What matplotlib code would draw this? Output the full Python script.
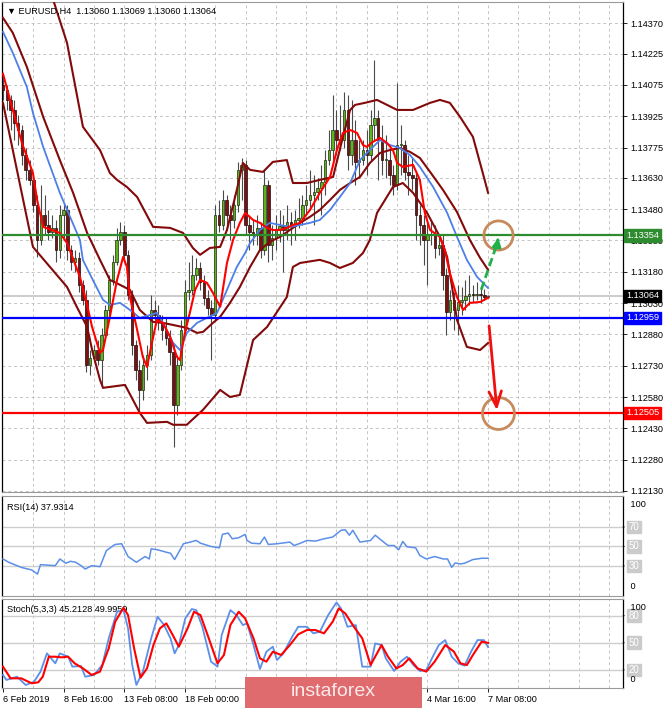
import matplotlib
matplotlib.use('Agg')
import matplotlib.pyplot as plt
import matplotlib.transforms as mtransforms
from matplotlib.patches import Rectangle
import numpy as np

plt.rcParams['font.family'] = ['Liberation Sans', 'DejaVu Sans']

# ------------------------------------------------------------------ data
symbol_title = "EURUSD,H4  1.13060 1.13069 1.13060 1.13064"
first_open = 1.14075
closes = [
    1.14051, 1.14003, 1.13955, 1.13893, 1.13859, 1.13739, 1.13668, 1.13620, 1.13500, 1.13332,
    1.13452, 1.13404, 1.13370, 1.13390, 1.13284, 1.13452, 1.13476, 1.13284, 1.13227, 1.13246,
    1.13117, 1.13045, 1.12733, 1.12767, 1.12805, 1.12757, 1.12877, 1.12997, 1.13141, 1.13227,
    1.13332, 1.13370, 1.13260, 1.13069, 1.12829, 1.12709, 1.12614, 1.12733, 1.12781, 1.12997,
    1.12973, 1.12939, 1.12901, 1.12863, 1.12796, 1.12542, 1.12733, 1.12901, 1.13083, 1.13093,
    1.13165, 1.13198, 1.13131, 1.13055, 1.13007, 1.12973, 1.13452, 1.13404, 1.13524, 1.13452,
    1.13428, 1.13500, 1.13668, 1.13691, 1.13404, 1.13370, 1.13356, 1.13390, 1.13284, 1.13596,
    1.13308, 1.13342, 1.13380, 1.13399, 1.13380, 1.13418, 1.13399, 1.13428, 1.13438, 1.13500,
    1.13524, 1.13548, 1.13562, 1.13582, 1.13610, 1.13715, 1.13763, 1.13859, 1.13811, 1.13811,
    1.13955, 1.13739, 1.13811, 1.13706, 1.13715, 1.13763, 1.13739, 1.13883, 1.13917, 1.13811,
    1.13715, 1.13715, 1.13644, 1.13596, 1.13787, 1.13787, 1.13658, 1.13644, 1.13629, 1.13452,
    1.13404, 1.13332, 1.13356, 1.13356, 1.13294, 1.13308, 1.13165, 1.12988, 1.13045, 1.12997,
    1.13036, 1.13045, 1.13064, 1.13074, 1.13069, 1.13074, 1.13069, 1.13060, 1.13064]
highs = [
    1.14123, 1.14075, 1.14027, 1.14003, 1.13931, 1.13883, 1.13773, 1.13715, 1.13644, 1.13548,
    1.13596, 1.13548, 1.13476, 1.13452, 1.13428, 1.13500, 1.13510, 1.13500, 1.13308, 1.13284,
    1.13275, 1.13141, 1.13093, 1.12805, 1.12829, 1.12853, 1.12911, 1.13021, 1.13165, 1.13260,
    1.13390, 1.13418, 1.13404, 1.13284, 1.13093, 1.12853, 1.12757, 1.12781, 1.12829, 1.13069,
    1.13045, 1.13021, 1.12973, 1.12959, 1.12901, 1.12829, 1.12781, 1.12949, 1.13141, 1.13227,
    1.13260, 1.13246, 1.13227, 1.13165, 1.13093, 1.13045, 1.13500, 1.13524, 1.13572, 1.13548,
    1.13500, 1.13548, 1.13706, 1.13725, 1.13715, 1.13452, 1.13428, 1.13452, 1.13418, 1.13668,
    1.13620, 1.13404, 1.13452, 1.13476, 1.13452, 1.13500, 1.13466, 1.13476, 1.13534, 1.13548,
    1.13596, 1.13668, 1.13644, 1.13629, 1.13691, 1.13763, 1.13859, 1.14027, 1.13955, 1.13979,
    1.14041, 1.14027, 1.14003, 1.13907, 1.13811, 1.13811, 1.13859, 1.13955, 1.14195, 1.13955,
    1.13883, 1.13835, 1.13763, 1.13691, 1.14084, 1.13883, 1.13811, 1.13739, 1.13725, 1.13658,
    1.13500, 1.13452, 1.13418, 1.13428, 1.13404, 1.13356, 1.13356, 1.13198, 1.13093, 1.13083,
    1.13117, 1.13107, 1.13141, 1.13165, 1.13117, 1.13131, 1.13107, 1.13098, 1.13069]
lows = [
    1.14003, 1.13955, 1.13859, 1.13811, 1.13787, 1.13691, 1.13620, 1.13596, 1.13466, 1.13251,
    1.13308, 1.13356, 1.13332, 1.13342, 1.13227, 1.13246, 1.13332, 1.13236, 1.13188, 1.13179,
    1.13083, 1.13021, 1.12699, 1.12685, 1.12771, 1.12733, 1.12623, 1.12853, 1.12973, 1.13117,
    1.13212, 1.13308, 1.13227, 1.13045, 1.12781, 1.12661, 1.12518, 1.12566, 1.12661, 1.12757,
    1.12925, 1.12901, 1.12853, 1.12829, 1.12733, 1.12341, 1.12494, 1.12709, 1.12877, 1.13045,
    1.13069, 1.13141, 1.13093, 1.13021, 1.12973, 1.12757, 1.12949, 1.13370, 1.13380, 1.13380,
    1.13332, 1.13390, 1.13466, 1.13524, 1.13356, 1.13284, 1.13308, 1.13308, 1.13246, 1.13260,
    1.13227, 1.13236, 1.13284, 1.13323, 1.13179, 1.13332, 1.13308, 1.13332, 1.13390, 1.13404,
    1.13452, 1.13476, 1.13404, 1.13524, 1.13452, 1.13548, 1.13691, 1.13715, 1.13739, 1.13763,
    1.13773, 1.13668, 1.13691, 1.13596, 1.13629, 1.13691, 1.13644, 1.13715, 1.13811, 1.13620,
    1.13644, 1.13629, 1.13596, 1.13548, 1.13572, 1.13644, 1.13620, 1.13548, 1.13572, 1.13332,
    1.13308, 1.13212, 1.13117, 1.13308, 1.13246, 1.13260, 1.13093, 1.12877, 1.12949, 1.12901,
    1.12877, 1.12973, 1.12997, 1.13021, 1.13031, 1.13045, 1.13031, 1.13045, 1.13060]

# fast MA (red)
red_ma_x = [0, 2.6, 5.0, 7.9, 9.0, 10.6, 15.0, 16.9, 20.3, 21.9, 23.5, 25.6, 26.4, 28.2, 30.1, 31.7,
            32.7, 33.5, 35.4, 36.9, 38.0, 39.3, 40.6, 42.2, 44.1, 45.9, 46.7, 48.0, 49.3, 50.7, 52.0,
            53.8, 55.4, 57.3, 59.1, 60.7, 62.5, 63.9, 66.0, 67.8, 69.7, 71.2, 73.1, 74.9, 76.5, 78.4,
            81.0, 83.6, 86.3, 88.1, 89.7, 91.6, 93.4, 95.0, 96.0, 97.6, 99.5, 101.3, 102.9, 104.0,
            105.5, 108.2, 110.0, 111.3, 112.7, 115.3, 116.6, 117.9, 119.8, 121.4, 123.2, 125.9, 128.0]
red_ma_y = [1.14128, 1.13955, 1.13797, 1.13653, 1.13524, 1.13395, 1.13366, 1.13318, 1.13155, 1.13045,
            1.12916, 1.12791, 1.12805, 1.12964, 1.13141, 1.13251, 1.13203, 1.13059, 1.12901, 1.12772,
            1.12724, 1.12839, 1.12949, 1.12935, 1.12868, 1.12772, 1.12757, 1.12887, 1.12983, 1.13093,
            1.13141, 1.13127, 1.13079, 1.13012, 1.13222, 1.13332, 1.13414, 1.13462, 1.13428, 1.13414,
            1.13390, 1.13380, 1.13380, 1.13390, 1.13404, 1.13414, 1.13476, 1.13558, 1.13634, 1.13763,
            1.13845, 1.13859, 1.13845, 1.13787, 1.13778, 1.13802, 1.13821, 1.13797, 1.13763, 1.13701,
            1.13682, 1.13692, 1.13620, 1.13462, 1.13380, 1.13347, 1.13284, 1.13174, 1.13059, 1.12997,
            1.13031, 1.13035, 1.13055]
# slow MA (blue)
blue_ma_x = [0, 2.6, 6.3, 7.9, 10.6, 15.0, 20.3, 21.1, 23.7, 26.4, 28.2, 30.9, 33.5, 36.1, 38.8, 40.6,
             42.2, 44.9, 46.7, 48.5, 51.2, 53.8, 56.5, 59.1, 61.7, 63.9, 65.2, 67.8, 70.4, 73.1, 75.7,
             78.4, 81.0, 83.6, 86.3, 88.9, 91.6, 94.2, 96.8, 99.5, 102.1, 104.7, 107.4, 110.0, 113.5,
             117.2, 119.8, 122.4, 125.1, 128.0]
blue_ma_y = [1.14329, 1.14228, 1.14065, 1.13941, 1.13778, 1.13558, 1.13332, 1.13236, 1.13141, 1.13045,
             1.13021, 1.13031, 1.12997, 1.12959, 1.12973, 1.12983, 1.12935, 1.12839, 1.12805, 1.12887,
             1.12935, 1.12959, 1.12983, 1.13093, 1.13203, 1.13270, 1.13318, 1.13380, 1.13414, 1.13404,
             1.13395, 1.13404, 1.13414, 1.13428, 1.13476, 1.13538, 1.13605, 1.13715, 1.13763, 1.13811,
             1.13787, 1.13773, 1.13739, 1.13682, 1.13586, 1.13462, 1.13347, 1.13237, 1.13155, 1.13102]
# Bollinger middle line
bb_mid_x = [0, 2.6, 6.3, 10.6, 15.0, 18.5, 22.2, 25.6, 28.2, 30.9, 33.5, 36.1, 39.6, 42.2, 44.9, 48.5,
            51.2, 52.8, 55.4, 57.3, 59.9, 62.5, 65.2, 67.8, 70.4, 73.1, 75.7, 78.4, 81.0, 83.6, 86.3,
            88.9, 91.6, 94.2, 96.8, 99.5, 102.1, 104.7, 107.4, 110.0, 112.7, 116.1, 119.8, 123.2,
            125.9, 128.0]
bb_mid_y = [1.14396, 1.14324, 1.14161, 1.13922, 1.13715, 1.13558, 1.13366, 1.13237, 1.13141, 1.13117,
            1.13093, 1.12997, 1.12940, 1.12935, 1.12925, 1.12911, 1.12887, 1.12892, 1.12935, 1.12964,
            1.13031, 1.13107, 1.13203, 1.13284, 1.13323, 1.13347, 1.13380, 1.13414, 1.13443, 1.13476,
            1.13524, 1.13572, 1.13605, 1.13634, 1.13701, 1.13749, 1.13763, 1.13773, 1.13754, 1.13725,
            1.13658, 1.13572, 1.13466, 1.13332, 1.13246, 1.13189]
# Bollinger upper band
bb_up_x = [12.4, 16.9, 21.1, 25.6, 28.2, 30.1, 32.7, 35.4, 39.6, 44.1, 47.5, 50.1, 52.0, 54.6, 57.3,
           59.1, 61.7, 63.3, 65.2, 68.6, 71.2, 74.9, 76.5, 80.2, 83.6, 87.1, 89.7, 91.6, 92.9, 95.5,
           98.7, 104.0, 108.2, 112.7, 115.3, 117.9, 120.6, 124.0, 126.6, 128.0]
bb_up_y = [1.14530, 1.14276, 1.13874, 1.13763, 1.13653, 1.13620, 1.13586, 1.13538, 1.13395, 1.13390,
           1.13366, 1.13294, 1.13261, 1.13294, 1.13299, 1.13380, 1.13572, 1.13701, 1.13668, 1.13658,
           1.13706, 1.13715, 1.13605, 1.13605, 1.13620, 1.13634, 1.13826, 1.13955, 1.13979, 1.13989,
           1.14003, 1.13955, 1.13955, 1.13989, 1.14003, 1.13989, 1.13922, 1.13826, 1.13653, 1.13558]
# Bollinger lower band
bb_lo_x = [0, 7.9, 12.4, 16.9, 19.5, 22.2, 23.7, 25.6, 26.4, 32.2, 36.1, 38.0, 43.3, 44.9, 48.5, 52.8,
           57.3, 59.9, 62.5, 66.0, 69.7, 74.9, 76.5, 78.4, 83.6, 86.3, 88.9, 92.3, 95.0, 96.8, 98.7,
           102.9, 105.5, 108.2, 111.9, 115.3, 117.2, 118.5, 119.8, 122.4, 125.9, 128.0]
bb_lo_y = [1.13989, 1.13299, 1.13203, 1.13107, 1.13011, 1.12916, 1.12791, 1.12662, 1.12624, 1.12638,
           1.12504, 1.12456, 1.12461, 1.12447, 1.12447, 1.12519, 1.12614, 1.12580, 1.12590, 1.12853,
           1.12916, 1.13059, 1.13203, 1.13222, 1.13237, 1.13222, 1.13198, 1.13222, 1.13270, 1.13332,
           1.13462, 1.13586, 1.13605, 1.13558, 1.13462, 1.13347, 1.13251, 1.13107, 1.12949, 1.12820,
           1.12805, 1.12839]

# RSI(14)
rsi_label = "RSI(14) 37.9314"
rsi_x = [0, 1.5, 4.8, 7.6, 9.1, 9.9, 13.8, 15.0, 16.6, 17.8, 19.2, 20.6, 21.7, 23.4, 25.6, 27.3, 29.6,
         31.3, 33.0, 35.2, 37.5, 38.6, 39.1, 40.8, 43.1, 44.2, 45.3, 47.6, 48.7, 51.0, 52.1, 54.9,
         57.1, 57.9, 59.4, 60.5, 62.2, 63.9, 64.4, 65.6, 67.8, 69.0, 70.0, 72.3, 75.7, 76.8, 78.5,
         80.2, 82.4, 84.7, 87.0, 89.2, 90.3, 91.4, 92.3, 94.2, 97.0, 98.2, 99.9, 101.6, 103.2, 104.4,
         105.5, 106.6, 108.9, 110.0, 111.7, 113.9, 116.2, 117.3, 118.4, 119.3, 120.7, 121.8, 124.0,
         126.3, 128.0]
rsi_y = [37.2, 33.8, 28.6, 25.9, 21.7, 31.4, 30.3, 37.2, 32.8, 34.8, 33.8, 30.3, 26.9, 30.3, 29.3, 45.9,
         52.1, 52.8, 39.7, 33.8, 39.7, 37.2, 47.6, 46.6, 44.1, 43.1, 36.6, 52.8, 53.8, 56.2, 53.4, 50.0,
         48.6, 62.4, 63.8, 57.9, 59.0, 62.4, 56.2, 53.4, 52.8, 59.7, 52.1, 52.8, 54.5, 51.0, 53.4, 56.2,
         55.5, 57.9, 59.7, 66.6, 67.2, 61.6, 66.6, 54.5, 56.2, 61.6, 56.2, 51.0, 51.0, 46.6, 55.2, 49.7,
         48.6, 40.7, 37.2, 39.7, 37.2, 37.2, 28.6, 33.1, 32.1, 32.8, 36.6, 37.9, 37.9]
rsi_levels = [70, 50, 30]

# Stochastic(5,3,3)
stoch_label = "Stoch(5,3,3) 45.2128 49.9959"
stoch_main_x = [0, 0.9, 3.7, 6.0, 8.2, 9.9, 11.6, 13.8, 15.0, 17.2, 18.3, 20.6, 21.7, 24.0, 26.2, 27.9,
                30.1, 31.8, 33.0, 34.1, 35.2, 36.9, 39.1, 40.8, 42.5, 44.2, 45.3, 46.4, 48.1, 49.8,
                51.0, 52.6, 54.9, 56.6, 57.7, 60.0, 61.6, 63.3, 64.4, 66.1, 67.8, 69.5, 71.2, 72.3,
                74.0, 76.3, 77.9, 80.2, 81.9, 83.6, 85.8, 88.0, 89.2, 90.9, 93.1, 94.8, 97.0, 98.2,
                99.9, 101.0, 103.2, 104.9, 106.6, 108.3, 110.0, 111.7, 113.4, 115.0, 116.7, 118.4,
                120.1, 121.8, 123.5, 125.2, 126.9, 128.0]
stoch_main_y = [14.5, 9.0, 12.6, 3.4, 7.1, 18.2, 38.4, 27.4, 38.4, 34.7, 23.7, 24.4, 12.6, 14.5, 25.5,
                55.0, 84.4, 86.2, 66.0, 25.5, 3.4, 18.2, 55.0, 78.9, 69.7, 55.0, 38.4, 47.6, 77.0, 87.4,
                86.2, 67.8, 29.2, 23.7, 58.6, 86.2, 80.7, 69.7, 71.5, 47.6, 21.1, 40.2, 45.8, 31.0, 38.4,
                56.8, 67.8, 67.8, 60.5, 62.3, 80.7, 94.7, 88.1, 67.8, 69.7, 23.7, 23.7, 49.4, 47.6, 32.9,
                18.9, 29.2, 34.7, 25.5, 18.9, 20.0, 34.7, 47.6, 53.1, 34.7, 27.4, 24.8, 40.2, 53.1, 53.1,
                45.2]
stoch_sig_x = [0, 2.0, 4.8, 7.6, 9.3, 10.5, 12.1, 13.8, 15.5, 17.2, 18.9, 21.1, 23.4, 25.6, 27.9, 29.6,
               31.8, 33.0, 34.6, 36.3, 38.0, 39.7, 41.4, 43.1, 44.8, 46.4, 48.7, 50.4, 52.1, 54.3, 56.6,
               58.3, 60.0, 62.2, 63.9, 66.1, 67.8, 69.5, 71.2, 73.4, 75.7, 77.9, 80.2, 82.4, 84.7, 87.0,
               88.6, 90.3, 92.6, 94.8, 97.0, 99.9, 101.6, 103.8, 105.5, 107.2, 109.4, 111.7, 113.9,
               116.7, 119.0, 120.7, 122.4, 124.0, 126.3, 128.0]
stoch_sig_y = [23.7, 10.8, 10.8, 5.3, 6.4, 12.6, 34.7, 34.7, 34.0, 34.7, 27.4, 21.8, 14.5, 18.2, 43.9,
               73.4, 88.8, 80.7, 43.9, 11.5, 21.8, 47.6, 66.0, 71.5, 58.6, 45.8, 66.0, 84.4, 80.7, 55.0,
               27.4, 36.6, 69.7, 84.4, 77.0, 55.0, 32.9, 29.2, 40.2, 36.6, 47.6, 59.4, 64.2, 64.2, 60.5,
               73.4, 88.1, 82.6, 67.8, 55.0, 25.5, 47.6, 34.7, 21.8, 25.5, 32.9, 21.8, 18.2, 29.2, 47.6,
               40.2, 27.4, 25.5, 36.6, 51.3, 50.0]
stoch_levels = [80, 50, 20]

# horizontal levels (price, colour)
level_prices = [1.13354, 1.12959, 1.12505]
level_colors = ['#2E8B2E', '#0000FF', '#FF0000']
current_price = 1.13064

price_ticks = [1.12130, 1.12280, 1.12430, 1.12580, 1.12730, 1.12880, 1.13030, 1.13180,
               1.13330, 1.13480, 1.13630, 1.13775, 1.13925, 1.14075, 1.14225, 1.14370]
# labels hidden under the watermark in the reference are left blank
date_ticks = [0, 16, 32, 48, 64, 80, 96, 112, 128]
date_labels = ['6 Feb 2019', '8 Feb 16:00', '13 Feb 08:00', '18 Feb 00:00', '',
               '', '', '4 Mar 16:00', '7 Mar 08:00']

# ------------------------------------------------------------------ layout
W, H = 665, 708
fig = plt.figure(figsize=(W / 100, H / 100), dpi=100)
fig.patch.set_facecolor('white')


def rect(x0, y0, x1, y1):
    return [x0 / W, 1 - y1 / H, (x1 - x0) / W, (y1 - y0) / H]


ax = fig.add_axes(rect(2, 2, 623, 492))
ax_rsi = fig.add_axes(rect(2, 496, 623, 596))
ax_st = fig.add_axes(rect(2, 599, 623, 688))

XL = (-0.26, 163.6)
FS = 6.6
GRID = dict(color='#C4C4C4', lw=0.7, ls=(0, (3, 3)), zorder=0)

for a in (ax, ax_rsi, ax_st):
    a.set_xlim(*XL)
    for s in ('top', 'bottom'):
        a.spines[s].set_color('#9A9A9A')
        a.spines[s].set_linewidth(0.8)
    for s in ('left', 'right'):
        a.spines[s].set_color('#000000')
        a.spines[s].set_linewidth(0.9)
    a.yaxis.tick_right()
    a.tick_params(axis='y', labelsize=FS, length=3, width=0.6, pad=2, colors='black')
    a.tick_params(axis='x', bottom=False, labelbottom=False)
    for gx in np.arange(8, XL[1], 8):
        a.axvline(gx, **GRID)

# ------------------------------------------------------------------ main
ax.set_ylim(1.12125, 1.14472)
ax.set_yticks(price_ticks)
ax.set_yticklabels(['%.5f' % p for p in price_ticks])
for p in price_ticks:
    ax.axhline(p, **GRID)

o = np.array([first_open] + closes[:-1])
c = np.array(closes)
h = np.maximum(np.array(highs), np.maximum(o, c))
l = np.minimum(np.array(lows), np.minimum(o, c))
x = np.arange(len(c))
up = c >= o
ax.vlines(x, l, h, color='#4A4A4A', lw=0.8, zorder=3)
bb = np.minimum(o, c)
bh = np.maximum(np.abs(c - o), 0.00003)
ax.bar(x[up], bh[up], bottom=bb[up], width=0.66, color='#5DB51C', edgecolor='#1F2A10',
       linewidth=0.5, zorder=4)
ax.bar(x[~up], bh[~up], bottom=bb[~up], width=0.66, color='#7A1212', edgecolor='#1E0A0A',
       linewidth=0.5, zorder=4)

ax.axhline(current_price, color='#C8C8C8', lw=1.3, zorder=2)

band_kw = dict(color='#820A0A', lw=1.5, zorder=5, solid_joinstyle='round')
ax.plot(bb_up_x, bb_up_y, **band_kw)
ax.plot(bb_lo_x, bb_lo_y, **band_kw)
ax.plot(bb_mid_x, bb_mid_y, **band_kw)
ax.plot(blue_ma_x, blue_ma_y, color='#4C7FE8', lw=1.3, zorder=6)
ax.plot(red_ma_x, red_ma_y, color='#FF0000', lw=1.5, zorder=7)

for lp, lc in zip(level_prices, level_colors):
    ax.axhline(lp, color=lc, lw=1.6, zorder=8)

ax.text(0.008, 0.991, '\u25BC ' + symbol_title, transform=ax.transAxes, fontsize=6.6,
        va='top', ha='left', color='black', zorder=20)

# right side price boxes
for lp, lc in zip(level_prices + [current_price], level_colors + ['#000000']):
    ax.annotate('%.5f' % lp, xy=(1.0, lp), xycoords=('axes fraction', 'data'),
                xytext=(2.2, 0), textcoords='offset points', ha='left', va='center',
                fontsize=FS, color='white', annotation_clip=False, zorder=30,
                bbox=dict(boxstyle='square,pad=0.18', fc=lc, ec=lc))

# annotations: circles and arrows
n = len(c)
tx = n + 1.6
circle_kw = dict(marker='o', mfc='none', mec='#C68A5C', mew=2.0, zorder=12, clip_on=False)
ax.plot([tx], [level_prices[0]], ms=21, **circle_kw)
ax.plot([tx], [level_prices[2]], ms=23, **circle_kw)

g0 = (n - 2.8, closes[-1] + 0.00030)
g1 = (tx + 0.2, level_prices[0] + 0.00002)
ax.plot([g0[0], g1[0] - 0.3], [g0[1], g1[1] - 0.00035], color='#22B04A', lw=2.0, ls=(0, (3, 1.5)),
        zorder=13)
ax.annotate('', xy=g1, xytext=(g1[0] - 0.35, g1[1] - 0.00040),
            arrowprops=dict(arrowstyle='-|>,head_length=0.5,head_width=0.25', color='#22B04A', lw=2),
            zorder=13)
r0 = (n - 0.8, closes[-1] - 0.00130)
r1 = (tx - 0.2, level_prices[2] - 0.00002)
ax.annotate('', xy=r1, xytext=r0,
            arrowprops=dict(arrowstyle='->,head_length=1.1,head_width=0.45', color='#F01010', lw=2),
            zorder=13)

# ------------------------------------------------------------------ RSI
ax_rsi.set_ylim(-0.8, 101.8)
ax_rsi.set_yticks([])
ax_rsi.tick_params(axis='y', right=False)
for lv in rsi_levels:
    ax_rsi.axhline(lv, color='#CDCDCD', lw=1.0, zorder=1)
ax_rsi.plot(rsi_x, rsi_y, color='#5B8FE8', lw=1.1, zorder=5)
ax_rsi.text(0.008, 0.93, rsi_label, transform=ax_rsi.transAxes, fontsize=FS, va='top', ha='left')


def side_labels(a, values, top_val, bot_val):
    tr = mtransforms.blended_transform_factory(a.transAxes, a.transData)
    for v in values:
        a.annotate(str(v), xy=(1.0, v), xycoords=tr, xytext=(4, 0), textcoords='offset points',
                   ha='left', va='center', fontsize=FS + 0.4, color='white', annotation_clip=False,
                   bbox=dict(boxstyle='square,pad=0.15', fc='#CBCBCB', ec='#CBCBCB'))
        a.annotate('', xy=(1.0, v), xycoords=tr, xytext=(3, 0), textcoords='offset points',
                   arrowprops=dict(arrowstyle='-', color='black', lw=0.6), annotation_clip=False)
    a.text(1.0, 0.96, '   ' + str(top_val), transform=a.transAxes, fontsize=FS, va='top', ha='left')
    a.text(1.0, 0.05, '   ' + str(bot_val), transform=a.transAxes, fontsize=FS, va='bottom', ha='left')


side_labels(ax_rsi, rsi_levels, 100, 0)

# ------------------------------------------------------------------ Stochastic
ax_st.set_ylim(0.1, 98.5)
ax_st.set_yticks([])
ax_st.tick_params(axis='y', right=False)
for lv in stoch_levels:
    ax_st.axhline(lv, color='#CDCDCD', lw=1.0, zorder=1)
ax_st.plot(stoch_main_x, stoch_main_y, color='#5B8FE8', lw=1.3, zorder=5)
ax_st.plot(stoch_sig_x, stoch_sig_y, color='#FF0000', lw=1.5, zorder=6)
ax_st.text(0.008, 0.93, stoch_label, transform=ax_st.transAxes, fontsize=FS, va='top', ha='left')
side_labels(ax_st, stoch_levels, 100, 0)

ax_st.set_xticks(date_ticks)
ax_st.set_xticklabels(date_labels, ha='left')
ax_st.tick_params(axis='x', bottom=True, labelbottom=True, labelsize=FS, length=3, width=0.6,
                  pad=2, colors='black')

# watermark
fig.patches.append(Rectangle((245 / W, 0), 177 / W, 31 / H, transform=fig.transFigure,
                             facecolor='#E06B6E', edgecolor='none', zorder=50))
fig.text((245 + 88.5) / W, (H - 691) / H, 'instaforex', ha='center', va='center',
         fontsize=14, color='#FBEAEA', zorder=51)

fig.savefig('out.png', dpi=100, facecolor='white')
